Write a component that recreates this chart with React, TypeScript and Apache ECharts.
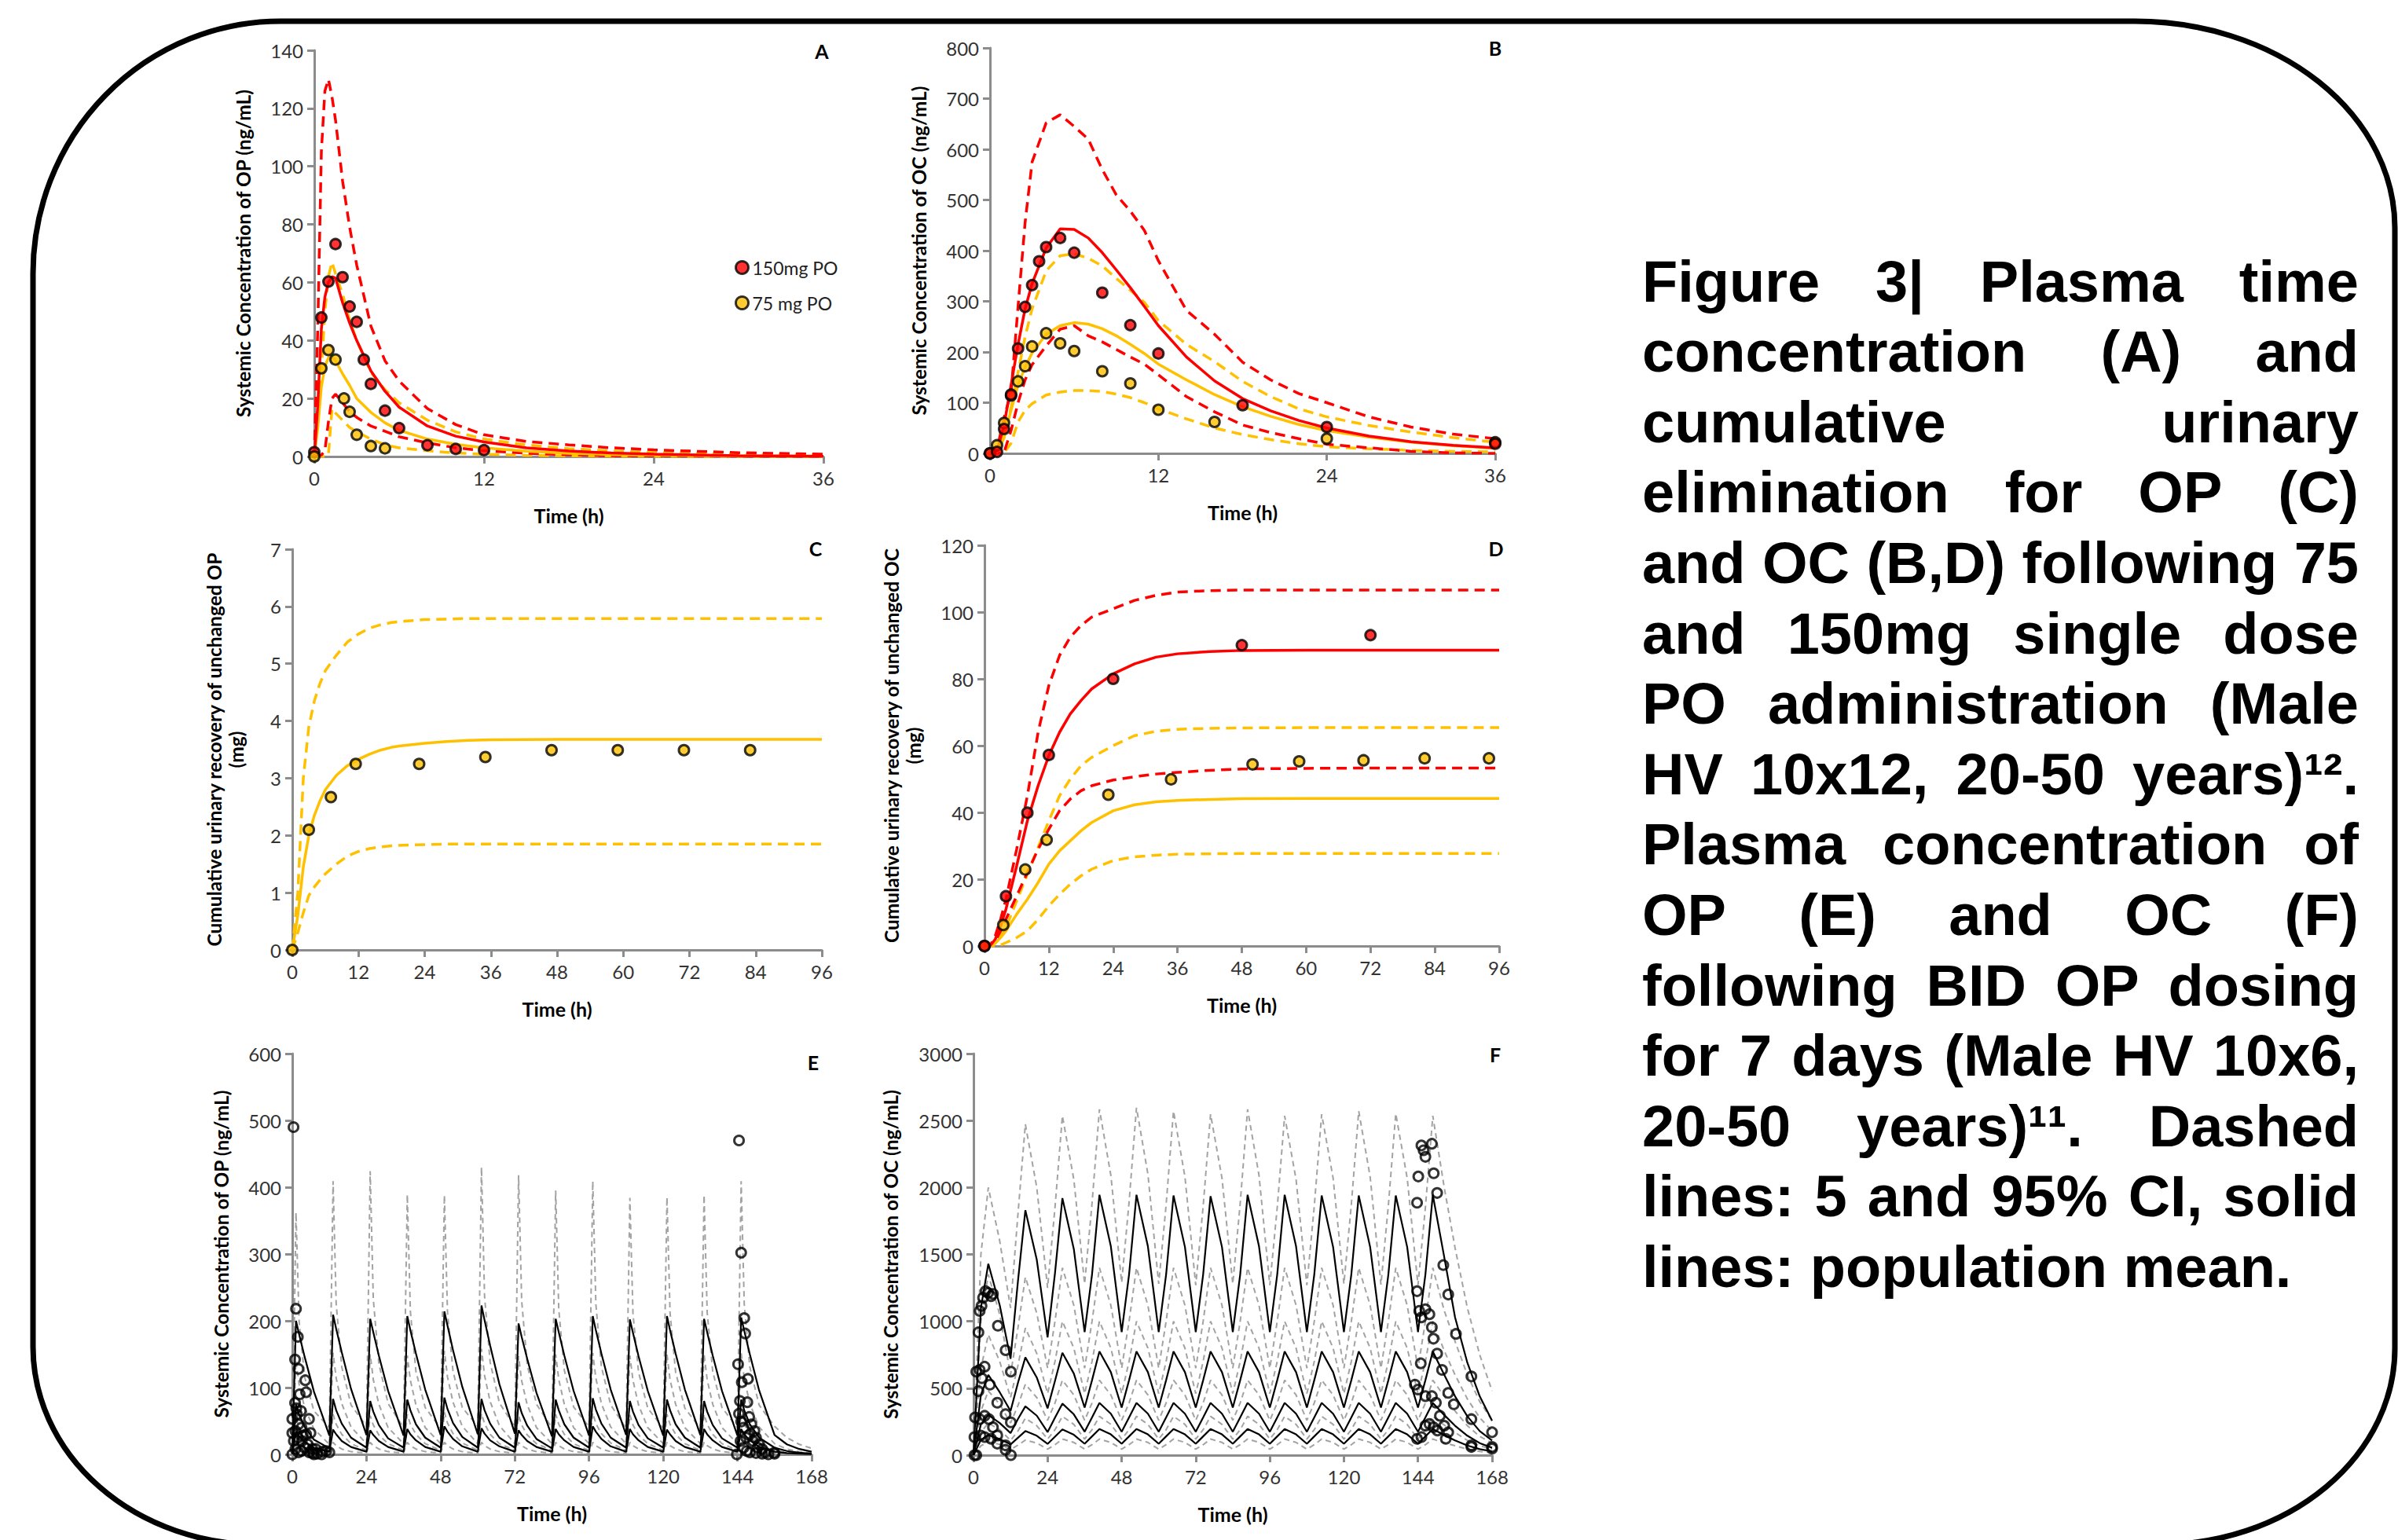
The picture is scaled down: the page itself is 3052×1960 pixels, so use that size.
import React, { useEffect, useRef } from "react";
import * as echarts from "echarts";

// ================= Panel A : OP plasma, single dose =================
const A_TIME = [0, 0.25, 0.5, 0.75, 1, 1.25, 1.5, 2, 2.5, 3, 4, 5, 6, 8, 10, 12, 15, 18, 21, 24, 30, 36];
const A_MEAN_150 = [0, 18, 44, 55, 60, 62, 61.5, 53, 46, 40, 29.5, 22.5, 17, 10.5, 7, 5, 3, 1.9, 1.2, 0.8, 0.3, 0.1];
const A_P95_150 = [0, 45, 105, 126, 130, 124, 116, 95, 79, 66, 45, 33, 26, 16.5, 11, 7.5, 5.2, 4, 3, 2.3, 1.3, 0.8];
const A_P5_150 = [0, 0, 0.5, 2, 12, 20, 21.5, 18.5, 15.5, 13.5, 10.5, 8.7, 6.8, 4.7, 3, 2, 1.1, 0.6, 0.3, 0.2, 0.1, 0];
const A_MEAN_75 = [0, 10, 24, 31, 34, 34.5, 33, 28.5, 24.5, 20, 15.2, 11.6, 9, 6, 4.2, 3, 1.8, 1.1, 0.7, 0.45, 0.2, 0.08];
const A_P95_75 = [0, 12, 30, 50, 62, 67, 63, 56, 47, 40, 29, 23, 18.5, 12.5, 8.5, 6, 4, 2.7, 1.9, 1.4, 0.8, 0.5];
const A_P5_75 = [0, 0, 0, 0, 0.5, 16.5, 15, 12.5, 10, 8.5, 6, 4, 3, 2, 1.2, 0.8, 0.4, 0.2, 0.1, 0.05, 0, 0];
const A_OBS_T_150 = [0, 0.5, 1, 1.5, 2, 2.5, 3, 3.5, 4, 5, 6, 8, 10, 12];
const A_OBS_150 = [1.5, 47.9, 60.3, 73.2, 61.8, 51.7, 46.4, 33.4, 25, 15.8, 9.8, 3.9, 2.6, 2.2];
const A_OBS_T_75 = [0, 0.5, 1, 1.5, 2.1, 2.5, 3, 4, 5];
const A_OBS_75 = [0, 30.4, 36.7, 33.4, 20, 15.4, 7.5, 3.6, 2.8];

// ================= Panel B : OC plasma, single dose =================
const B_TIME = [0, 0.5, 1, 1.5, 2, 2.5, 3, 4, 5, 6, 7, 8, 9, 10, 11, 12, 14, 16, 18, 20, 22, 24, 27, 30, 33, 36];
const B_MEAN_150 = [0, 5, 55, 135, 215, 285, 335, 405, 443, 442, 425, 396, 362, 327, 290, 252, 190, 143, 108, 84, 65, 50, 34, 23, 16, 11];
const B_P95_150 = [0, 8, 70, 120, 290, 455, 575, 652, 668, 645, 620, 560, 510, 478, 440, 380, 282, 235, 180, 145, 118, 100, 72, 52, 38, 29];
const B_P5_150 = [0, 0, 2, 45, 100, 145, 175, 212, 245, 252, 232, 220, 205, 190, 176, 155, 112, 82, 56, 41, 29, 18, 11, 4, 1, 0];
const B_MEAN_75 = [0, 3, 35, 85, 135, 170, 198, 235, 252, 258, 255, 246, 232, 215, 197, 176, 145, 116, 92, 73, 57, 45, 32, 22, 15, 10];
const B_P95_75 = [0, 2, 30, 90, 160, 230, 285, 360, 390, 394, 385, 370, 345, 322, 298, 262, 215, 181, 142, 112, 88, 72, 55, 42, 31, 22];
const B_P5_75 = [0, 0, 1, 20, 62, 85, 98, 115, 121, 124, 124, 122, 117, 110, 100, 88, 68, 50, 37, 27, 19, 13, 9, 6, 4, 3];
const B_OBS_T_150 = [0, 0.5, 1, 1.5, 2, 2.5, 3, 3.5, 4, 5, 6, 8, 10, 12, 18, 24, 36];
const B_OBS_150 = [0, 3, 48, 116, 207, 289, 332, 379, 407, 425, 396, 317, 253, 197, 95, 52, 19];
const B_OBS_T_75 = [0, 0.5, 1, 1.5, 2, 2.5, 3, 4, 5, 6, 8, 10, 12, 16, 24, 36];
const B_OBS_75 = [0, 16, 60, 114, 142, 172, 211, 237, 217, 202, 162, 138, 86, 62, 29, 22];

// ================= Panel C : OP cumulative urinary =================
const C_TIME = [0, 1, 2, 3, 4, 5, 6, 8, 10, 12, 14, 16, 18, 20, 24, 28, 32, 36, 48, 60, 72, 84, 96];
const C_MEAN_75 = [0, 0.6, 1.45, 2.0, 2.35, 2.6, 2.8, 3.05, 3.22, 3.33, 3.42, 3.49, 3.54, 3.57, 3.61, 3.64, 3.66, 3.67, 3.68, 3.68, 3.68, 3.68, 3.68];
const C_P95_75 = [0, 1.0, 3.0, 3.9, 4.35, 4.65, 4.88, 5.15, 5.38, 5.52, 5.62, 5.68, 5.72, 5.74, 5.77, 5.78, 5.79, 5.79, 5.79, 5.79, 5.79, 5.79, 5.79];
const C_P5_75 = [0, 0.3, 0.65, 0.95, 1.1, 1.22, 1.33, 1.5, 1.64, 1.72, 1.77, 1.8, 1.82, 1.83, 1.84, 1.85, 1.85, 1.85, 1.85, 1.85, 1.85, 1.85, 1.85];
const C_OBS_T = [0, 3, 7, 11.5, 23, 35, 47, 59, 71, 83];
const C_OBS = [0, 2.1, 2.67, 3.25, 3.25, 3.37, 3.49, 3.49, 3.49, 3.49];

// ================= Panel D : OC cumulative urinary =================
const D_TIME = [0, 1, 2, 3, 4, 6, 8, 10, 12, 14, 16, 18, 20, 24, 28, 32, 36, 42, 48, 60, 72, 84, 96];
const D_MEAN_150 = [0, 0, 2, 6, 11, 24, 37.5, 48, 57, 64, 69.5, 73.5, 77, 81.5, 84.5, 86.5, 87.5, 88.2, 88.5, 88.6, 88.6, 88.6, 88.6];
const D_P95_150 = [0, 0, 3, 8, 14, 29, 45, 64, 78, 87, 92.5, 96, 98.5, 101, 103.5, 105, 106, 106.4, 106.6, 106.6, 106.6, 106.6, 106.6];
const D_P5_150 = [0, 0, 1.5, 4.5, 8, 15, 22, 29, 35, 40.5, 44, 46.5, 48, 49.7, 50.7, 51.5, 52, 52.6, 53, 53.2, 53.3, 53.3, 53.3];
const D_MEAN_75 = [0, 0, 0.8, 2.5, 4.5, 9.5, 14, 19, 24.5, 28.5, 31.5, 34.5, 37, 40.5, 42.3, 43.2, 43.6, 43.9, 44.1, 44.2, 44.2, 44.2, 44.2];
const D_P95_75 = [0, 0, 1.5, 3, 5.5, 13.5, 21.5, 29.5, 37.5, 45, 50, 54, 56.5, 60, 63, 64.3, 64.9, 65.2, 65.3, 65.4, 65.4, 65.4, 65.4];
const D_P5_75 = [0, 0, 0, 0.3, 1, 2.5, 4.5, 8, 12, 15.5, 18.5, 21, 23, 25.6, 26.7, 27.2, 27.5, 27.6, 27.7, 27.7, 27.7, 27.7, 27.7];
const D_OBS_T_150 = [0, 4, 8, 12, 24, 48, 72];
const D_OBS_150 = [0, 14.9, 39.9, 57.2, 80, 90.1, 93.1];
const D_OBS_T_75 = [0, 3.5, 7.6, 11.6, 23.1, 34.8, 50, 58.7, 70.7, 82.1, 94.1];
const D_OBS_75 = [0, 6.3, 22.9, 31.8, 45.3, 49.9, 54.4, 55.3, 55.6, 56.2, 56.2];

// ================= Panel E : OP plasma, BID 7 days =================
const E_TIME = [
  0, 1.2, 2.2, 4, 7, 12, 13.2, 14.2, 16, 19, 24, 25.2, 26.2, 28, 31, 36, 37.2, 38.2, 40, 43,
  48, 49.2, 50.2, 52, 55, 60, 61.2, 62.2, 64, 67, 72, 73.2, 74.2, 76, 79, 84, 85.2, 86.2, 88, 91,
  96, 97.2, 98.2, 100, 103, 108, 109.2, 110.2, 112, 115, 120, 121.2, 122.2, 124, 127,
  132, 133.2, 134.2, 136, 139, 144, 145.2, 146.2, 148, 151, 156, 160, 164, 168,
];
const E_MEAN_1 = [
  0, 200, 180, 146, 94, 28, 209, 188, 153, 98, 29, 203, 183, 148, 95, 28, 207, 186, 151, 97,
  29, 214, 193, 156, 101, 30, 223, 201, 163, 105, 31, 196, 176, 143, 92, 27, 203, 183, 148, 95,
  28, 207, 186, 151, 97, 29, 202, 182, 147, 95, 28, 207, 186, 151, 97,
  29, 203, 183, 148, 95, 28, 205, 185, 150, 96, 29, 15, 8, 4,
];
const E_MEAN_2 = [
  0, 75, 60, 41, 22, 9, 83, 66, 46, 25, 10, 80, 64, 44, 24, 10, 82, 66, 45, 25,
  10, 85, 68, 47, 26, 10, 83, 66, 46, 25, 10, 78, 62, 43, 23, 9, 82, 66, 45, 25,
  10, 84, 67, 46, 25, 10, 80, 64, 44, 24, 10, 82, 66, 45, 25,
  10, 80, 64, 44, 24, 10, 82, 66, 45, 25, 10, 5, 2.5, 1,
];
const E_MEAN_3 = [
  0, 34, 27, 19, 10, 4, 37, 30, 20, 11, 4, 36, 29, 20, 11, 4, 38, 30, 21, 11,
  4, 42, 34, 23, 12, 4, 39, 31, 21, 12, 4, 36, 29, 20, 11, 4, 38, 30, 21, 11,
  4, 42, 34, 23, 12, 4, 38, 30, 21, 11, 4, 37, 30, 20, 11,
  4, 38, 30, 21, 11, 4, 38, 30, 21, 11, 4, 2, 1, 0.5,
];
const E_CI_1 = [
  0, 362, 200, 116, 65, 40, 409, 225, 131, 74, 42, 424, 233, 136, 76, 40, 389, 214, 124, 70,
  39, 388, 213, 124, 70, 42, 430, 236, 138, 77, 41, 418, 230, 134, 75, 40, 395, 217, 126, 71,
  41, 409, 225, 131, 74, 39, 384, 211, 123, 69, 39, 385, 212, 123, 69,
  39, 388, 213, 124, 70, 40, 409, 225, 131, 74, 42, 25, 15, 9,
];
const E_CI_2 = [
  0, 140, 105, 70, 38, 15, 152, 114, 76, 41, 16, 150, 112, 75, 40, 16, 148, 111, 74, 40,
  16, 155, 116, 78, 42, 16, 158, 118, 79, 43, 16, 147, 110, 74, 40, 16, 150, 112, 75, 40,
  16, 152, 114, 76, 41, 16, 148, 111, 74, 40, 16, 150, 112, 75, 40,
  16, 150, 112, 75, 40, 16, 152, 114, 76, 41, 16, 8, 4, 2,
];
const E_CI_3 = [
  0, 55, 41, 27, 15, 6, 60, 45, 30, 16, 6, 58, 44, 29, 16, 6, 60, 45, 30, 16,
  6, 63, 47, 31, 17, 6, 61, 46, 30, 16, 6, 58, 44, 29, 16, 6, 60, 45, 30, 16,
  6, 62, 46, 31, 17, 6, 59, 44, 29, 16, 6, 60, 45, 30, 16,
  6, 60, 45, 30, 16, 6, 60, 45, 30, 16, 6, 3, 1.5, 0.8,
];
const E_CI_4 = [
  0, 16, 12, 7, 4, 2, 18, 13, 8, 4, 2, 18, 13, 8, 4, 2, 18, 13, 8, 4,
  2, 18, 13, 8, 4, 2, 18, 13, 8, 4, 2, 18, 13, 8, 4, 2, 18, 13, 8, 4,
  2, 18, 13, 8, 4, 2, 18, 13, 8, 4, 2, 18, 13, 8, 4,
  2, 18, 13, 8, 4, 2, 18, 13, 8, 4, 2, 1, 0.5, 0.2,
];
const E_OBS = [
  [0.4, 490], [1.2, 218], [1.8, 176], [0.9, 142], [2, 128], [4.2, 111], [4.5, 93], [2.4, 90], [0.9, 77], [1.3, 69],
  [0, 53], [5.4, 53], [0, 32], [5.9, 32], [0, 0], [3.1, 20], [7.6, 8], [9.8, 4], [1.5, 60], [2, 45],
  [2.8, 65], [3, 40], [1, 35], [0.5, 20], [1.8, 25], [3.4, 28], [4.5, 30], [5, 15], [4, 10], [6.5, 8],
  [3, 5], [2, 3], [1, 8], [5.5, 3], [6.5, 2], [7, 0], [8, 1], [9.5, 0], [11, 5], [12, 3],
  [144.5, 470], [145.2, 302], [146.2, 204], [146.5, 181], [144.2, 135], [145.4, 108], [147.4, 113], [144.5, 61], [145.2, 49], [147.2, 78],
  [147.8, 56], [143.8, 0], [147.8, 29], [149, 20], [150.5, 10], [153, 2.5], [155.9, 2.5], [146, 40], [146.8, 25], [148.5, 45],
  [149.5, 35], [150, 25], [151, 15], [152, 8], [145, 20], [146, 10], [147, 5], [148, 3], [150, 2], [152, 1],
  [154, 0], [156, 1], [144.8, 80],
];

// ================= Panel F : OC plasma, BID 7 days =================
const F_TIME = [
  0, 2.4, 4.8, 8.5, 12, 14.4, 16.8, 20.5, 24, 26.4, 28.8, 32.5, 36, 38.4, 40.8, 44.5,
  48, 50.4, 52.8, 56.5, 60, 62.4, 64.8, 68.5, 72, 74.4, 76.8, 80.5, 84, 86.4, 88.8, 92.5,
  96, 98.4, 100.8, 104.5, 108, 110.4, 112.8, 116.5, 120, 122.4, 124.8, 128.5, 132, 134.4, 136.8, 140.5,
  144, 146.4, 148.8, 152.5, 156, 160, 164, 168,
];
const F_MEAN_1 = [
  0, 1100, 1430, 1120, 720, 1300, 1830, 1460, 880, 1360, 1920, 1540, 920, 1350, 1945, 1560,
  920, 1350, 1945, 1560, 920, 1350, 1940, 1555, 920, 1350, 1935, 1555, 920, 1350, 1945, 1560,
  920, 1350, 1945, 1560, 920, 1350, 1940, 1555, 920, 1350, 1940, 1555, 920, 1350, 1940, 1555,
  920, 1350, 1945, 1480, 1030, 690, 440, 257,
];
const F_MEAN_2 = [
  0, 450, 600, 470, 330, 540, 730, 580, 350, 555, 765, 610, 355, 560, 775, 620,
  355, 560, 775, 620, 355, 560, 775, 620, 355, 560, 775, 620, 355, 560, 775, 620,
  355, 560, 775, 620, 355, 560, 775, 620, 355, 560, 775, 620, 355, 560, 775, 620,
  355, 560, 775, 600, 440, 290, 180, 110,
];
const F_MEAN_3 = [
  0, 230, 300, 240, 165, 270, 365, 295, 172, 280, 385, 305, 175, 282, 390, 310,
  175, 282, 390, 310, 175, 282, 390, 310, 175, 282, 390, 310, 175, 282, 390, 310,
  175, 282, 390, 310, 175, 282, 390, 310, 175, 282, 390, 310, 175, 282, 390, 310,
  175, 282, 390, 300, 220, 145, 90, 55,
];
const F_MEAN_4 = [
  0, 115, 150, 120, 80, 130, 180, 145, 84, 138, 192, 152, 85, 140, 195, 155,
  85, 140, 195, 155, 85, 140, 195, 155, 85, 140, 195, 155, 85, 140, 195, 155,
  85, 140, 195, 155, 85, 140, 195, 155, 85, 140, 195, 155, 85, 140, 195, 155,
  85, 140, 195, 150, 110, 72, 45, 28,
];
const F_CI_1 = [
  0, 1500, 2000, 1600, 1100, 1800, 2473, 2000, 1250, 1850, 2535, 2060, 1280, 1880, 2584, 2090,
  1290, 1890, 2596, 2100, 1280, 1870, 2571, 2080, 1270, 1860, 2547, 2070, 1280, 1880, 2584, 2090,
  1270, 1850, 2535, 2060, 1270, 1860, 2547, 2070, 1280, 1870, 2571, 2080, 1275, 1865, 2552, 2070,
  1270, 1850, 2535, 2000, 1550, 1100, 750, 480,
];
const F_CI_2 = [
  0, 1000, 1350, 1050, 600, 950, 1330, 1060, 650, 1000, 1400, 1120, 650, 1000, 1400, 1120,
  650, 1000, 1400, 1120, 650, 1000, 1400, 1120, 650, 1000, 1400, 1120, 650, 1000, 1400, 1120,
  650, 1000, 1400, 1120, 650, 1000, 1400, 1120, 650, 1000, 1400, 1120, 650, 1000, 1400, 1120,
  650, 1000, 1400, 1080, 850, 600, 400, 260,
];
const F_CI_3 = [
  0, 650, 900, 700, 430, 670, 950, 760, 460, 700, 1000, 800, 460, 700, 1000, 800,
  460, 700, 1000, 800, 460, 700, 1000, 800, 460, 700, 1000, 800, 460, 700, 1000, 800,
  460, 700, 1000, 800, 460, 700, 1000, 800, 460, 700, 1000, 800, 460, 700, 1000, 800,
  460, 700, 1000, 780, 600, 420, 280, 180,
];
const F_CI_4 = [
  0, 330, 480, 380, 240, 370, 530, 430, 260, 390, 560, 450, 260, 390, 560, 450,
  260, 390, 560, 450, 260, 390, 560, 450, 260, 390, 560, 450, 260, 390, 560, 450,
  260, 390, 560, 450, 260, 390, 560, 450, 260, 390, 560, 450, 260, 390, 560, 450,
  260, 390, 560, 440, 330, 220, 140, 90,
];
const F_CI_5 = [
  0, 170, 240, 190, 110, 180, 275, 220, 120, 190, 290, 230, 120, 190, 290, 230,
  120, 190, 290, 230, 120, 190, 290, 230, 120, 190, 290, 230, 120, 190, 290, 230,
  120, 190, 290, 230, 120, 190, 290, 230, 120, 190, 290, 230, 120, 190, 290, 230,
  120, 190, 290, 225, 170, 110, 70, 45,
];
const F_CI_6 = [
  0, 70, 100, 80, 42, 75, 112, 90, 45, 78, 120, 95, 45, 78, 120, 95,
  45, 78, 120, 95, 45, 78, 120, 95, 45, 78, 120, 95, 45, 78, 120, 95,
  45, 78, 120, 95, 45, 78, 120, 95, 45, 78, 120, 95, 45, 78, 120, 95,
  45, 78, 120, 92, 70, 45, 28, 18,
];
const F_OBS = [
  [0.3, 0], [1.6, 918], [2.0, 1078], [2.6, 1115], [3.1, 1176], [3.9, 1225], [4.7, 1212], [5.7, 1188], [6.3, 1205], [7.9, 967],
  [10.4, 784], [12.1, 624], [1.6, 478], [0.9, 624], [2.0, 637], [2.7, 575], [3.6, 661], [5.3, 527], [7.7, 392], [10.4, 306],
  [12.1, 245], [0.5, 282], [2.0, 269], [3.6, 294], [5.0, 269], [6.3, 208], [7.7, 147], [10.4, 73], [12.1, 0], [0.3, 135],
  [0.9, 0], [2.3, 147], [3.6, 135], [5.7, 122], [7.7, 86], [10.4, 40],
  [143.7, 1886], [144.1, 2082], [145.1, 2314], [145.8, 2278], [146.4, 2229], [148.5, 2327], [149.1, 2106], [150.2, 1959], [152.2, 1420], [153.8, 1200],
  [156.3, 906], [161.3, 588], [168, 171], [143.7, 1225], [144.4, 1078], [145.1, 1029], [146.4, 1090], [147.7, 1053], [148.5, 955], [149, 870],
  [150.2, 759], [151.8, 637], [153.8, 465], [155.6, 380], [161.3, 269], [168, 61], [143, 527], [144, 490], [144.9, 686], [146.4, 441],
  [148.5, 441], [149.8, 392], [151.1, 294], [152.5, 220], [153.8, 171], [161.3, 73], [168, 49], [143.7, 122], [145.1, 135], [146.4, 220],
  [147.7, 233], [149, 208], [150.3, 184], [153, 122], [161.3, 61],
];

// ================= Caption =================
const CAPTION_LINES = [
  "Figure 3| Plasma time",
  "concentration (A) and",
  "cumulative urinary",
  "elimination for OP (C)",
  "and OC (B,D) following 75",
  "and 150mg single dose",
  "PO administration (Male",
  "HV 10x12, 20-50 years)¹².",
  "Plasma concentration of",
  "OP (E) and OC (F)",
  "following BID OP dosing",
  "for 7 days (Male HV 10x6,",
  "20-50 years)¹¹. Dashed",
  "lines: 5 and 95% CI, solid",
  "lines: population mean.",
];

const FRAME_D =
  "M357 27 L2717 27 A331 263 0 0 1 3048 290 L3048 1716 A300 250 0 0 1 2748 1966 L330 1966 A288 252 0 0 1 42 1714 L42 348 A315 321 0 0 1 357 27 Z";

const RED = "#FF0000";
const GOLD = "#FFC000";
const GRAYD = "#A3A3A3";
const AXIS_GRAY = "#8C8C8C";
const TICK_FONT = "Lato";

const pairs = (t: number[], v: number[]) => t.map((x, i) => [x, v[i]]);

const PANELS = [
  { grid: { left: 400, top: 64, width: 648, height: 517 }, xMax: 36, xInt: 12, yMax: 140, yInt: 20, yName: "Systemic Concentration of OP (ng/mL)", yGap: 77, letter: "A", lx: 1046, ly: 65 },
  { grid: { left: 1260, top: 61, width: 643, height: 516 }, xMax: 36, xInt: 12, yMax: 800, yInt: 100, yName: "Systemic Concentration of OC (ng/mL)", yGap: 77, letter: "B", lx: 1903, ly: 61 },
  { grid: { left: 372, top: 699, width: 674, height: 510 }, xMax: 96, xInt: 12, yMax: 7, yInt: 1, yName: "Cumulative urinary recovery of unchanged OP\n(mg)", yGap: 58, letter: "C", lx: 1038, ly: 698 },
  { grid: { left: 1253, top: 694, width: 655, height: 510 }, xMax: 96, xInt: 12, yMax: 120, yInt: 20, yName: "Cumulative urinary recovery of unchanged OC\n(mg)", yGap: 77, letter: "D", lx: 1904, ly: 698 },
  { grid: { left: 372, top: 1341, width: 661, height: 510 }, xMax: 168, xInt: 24, yMax: 600, yInt: 100, yName: "Systemic Concentration of OP (ng/mL)", yGap: 77, letter: "E", lx: 1035, ly: 1352 },
  { grid: { left: 1239, top: 1341, width: 660, height: 511 }, xMax: 168, xInt: 24, yMax: 3000, yInt: 500, yName: "Systemic Concentration of OC (ng/mL)", yGap: 92, letter: "F", lx: 1903, ly: 1342 },
];

function lineS(i: number, t: number[], v: number[], color: string, width: number, dash: number[] | null, z = 2) {
  return {
    type: "line",
    xAxisIndex: i,
    yAxisIndex: i,
    data: pairs(t, v),
    symbol: "none",
    showSymbol: false,
    silent: true,
    z,
    lineStyle: { color, width, type: dash ? dash : "solid", cap: "butt" },
  };
}

function dotS(i: number, t: number[], v: number[], fill: string, name?: string) {
  return {
    type: "scatter",
    name,
    xAxisIndex: i,
    yAxisIndex: i,
    data: pairs(t, v),
    symbol: "circle",
    symbolSize: 13,
    silent: true,
    z: 5,
    itemStyle: { color: fill, borderColor: "#000", borderWidth: 3 },
  };
}

function openS(i: number, data: number[][]) {
  return {
    type: "scatter",
    xAxisIndex: i,
    yAxisIndex: i,
    data,
    symbol: "circle",
    symbolSize: 12,
    silent: true,
    z: 5,
    itemStyle: { color: "rgba(255,255,255,0)", borderColor: "#000", borderWidth: 3 },
  };
}

export default function App() {
  const ref = useRef<HTMLDivElement>(null);

  useEffect(() => {
    document.body.style.margin = "0";
    if (!ref.current) return;
    echarts.graphic.registerShape("frameShape", echarts.graphic.extendPath(FRAME_D, {}));
    const chart = echarts.init(ref.current, null, { renderer: "svg" });

    const xAxis: any[] = [];
    const yAxis: any[] = [];
    const plain = (v: number) => String(v);
    PANELS.forEach((p, i) => {
      xAxis.push({
        type: "value",
        gridIndex: i,
        min: 0,
        max: p.xMax,
        interval: p.xInt,
        name: "Time (h)",
        nameLocation: "middle",
        nameGap: 62,
        nameTextStyle: { fontFamily: TICK_FONT, fontWeight: "bold", fontSize: 25, color: "#000" },
        axisLine: { show: true, onZero: false, lineStyle: { color: AXIS_GRAY, width: 3 } },
        axisTick: { show: true, length: 9, lineStyle: { color: AXIS_GRAY, width: 3 } },
        axisLabel: { fontFamily: TICK_FONT, fontSize: 24, color: "#333", margin: 15, formatter: plain },
        splitLine: { show: false },
      });
      yAxis.push({
        type: "value",
        gridIndex: i,
        min: 0,
        max: p.yMax,
        interval: p.yInt,
        name: p.yName,
        nameLocation: "middle",
        nameGap: p.yGap,
        nameTextStyle: { fontFamily: TICK_FONT, fontWeight: "bold", fontSize: 24.5, color: "#000", lineHeight: 28 },
        axisLine: { show: true, onZero: false, lineStyle: { color: AXIS_GRAY, width: 3 } },
        axisTick: { show: true, length: 9, lineStyle: { color: AXIS_GRAY, width: 3 } },
        axisLabel: { fontFamily: TICK_FONT, fontSize: 24, color: "#333", margin: 14, formatter: plain },
        splitLine: { show: false },
      });
    });
    // duplicate x axes that draw the inner half of the crossing tick marks
    PANELS.forEach((p, i) => {
      xAxis.push({
        type: "value",
        gridIndex: i,
        min: 0,
        max: p.xMax,
        interval: p.xInt,
        axisLine: { show: false },
        axisTick: { show: true, inside: true, length: 9, lineStyle: { color: AXIS_GRAY, width: 3 } },
        axisLabel: { show: false },
        splitLine: { show: false },
      });
    });

    const dash = [13, 8];
    const gdash = [7, 5];
    const series: any[] = [
      // A
      lineS(0, A_TIME, A_P95_75, GOLD, 3.5, dash),
      lineS(0, A_TIME, A_P5_75, GOLD, 3.5, dash),
      lineS(0, A_TIME, A_P95_150, RED, 3.5, dash),
      lineS(0, A_TIME, A_P5_150, RED, 3.5, dash),
      lineS(0, A_TIME, A_MEAN_75, GOLD, 3.5, null, 3),
      lineS(0, A_TIME, A_MEAN_150, RED, 3.5, null, 3),
      dotS(0, A_OBS_T_150, A_OBS_150, RED, "150mg PO"),
      dotS(0, A_OBS_T_75, A_OBS_75, GOLD, "75 mg PO"),
      // B
      lineS(1, B_TIME, B_P95_75, GOLD, 3.5, dash),
      lineS(1, B_TIME, B_P5_75, GOLD, 3.5, dash),
      lineS(1, B_TIME, B_P95_150, RED, 3.5, dash),
      lineS(1, B_TIME, B_P5_150, RED, 3.5, dash),
      lineS(1, B_TIME, B_MEAN_75, GOLD, 3.5, null, 3),
      lineS(1, B_TIME, B_MEAN_150, RED, 3.5, null, 3),
      dotS(1, B_OBS_T_75, B_OBS_75, GOLD),
      dotS(1, B_OBS_T_150, B_OBS_150, RED),
      // C
      lineS(2, C_TIME, C_P95_75, GOLD, 3.5, dash),
      lineS(2, C_TIME, C_P5_75, GOLD, 3.5, dash),
      lineS(2, C_TIME, C_MEAN_75, GOLD, 3.5, null, 3),
      dotS(2, C_OBS_T, C_OBS, GOLD),
      // D
      lineS(3, D_TIME, D_P95_75, GOLD, 3.5, dash),
      lineS(3, D_TIME, D_P5_75, GOLD, 3.5, dash),
      lineS(3, D_TIME, D_P95_150, RED, 3.5, dash),
      lineS(3, D_TIME, D_P5_150, RED, 3.5, dash),
      lineS(3, D_TIME, D_MEAN_75, GOLD, 3.5, null, 3),
      lineS(3, D_TIME, D_MEAN_150, RED, 3.5, null, 3),
      dotS(3, D_OBS_T_75, D_OBS_75, GOLD),
      dotS(3, D_OBS_T_150, D_OBS_150, RED),
      // E
      lineS(4, E_TIME, E_CI_1, GRAYD, 2, gdash),
      lineS(4, E_TIME, E_CI_2, GRAYD, 2, gdash),
      lineS(4, E_TIME, E_CI_3, GRAYD, 2, gdash),
      lineS(4, E_TIME, E_CI_4, GRAYD, 2, gdash),
      lineS(4, E_TIME, E_MEAN_3, "#000", 2.2, null, 3),
      lineS(4, E_TIME, E_MEAN_2, "#000", 2.2, null, 3),
      lineS(4, E_TIME, E_MEAN_1, "#000", 2.2, null, 3),
      openS(4, E_OBS),
      // F
      lineS(5, F_TIME, F_CI_1, GRAYD, 2, gdash),
      lineS(5, F_TIME, F_CI_2, GRAYD, 2, gdash),
      lineS(5, F_TIME, F_CI_3, GRAYD, 2, gdash),
      lineS(5, F_TIME, F_CI_4, GRAYD, 2, gdash),
      lineS(5, F_TIME, F_CI_5, GRAYD, 2, gdash),
      lineS(5, F_TIME, F_CI_6, GRAYD, 2, gdash),
      lineS(5, F_TIME, F_MEAN_4, "#000", 2.2, null, 3),
      lineS(5, F_TIME, F_MEAN_3, "#000", 2.2, null, 3),
      lineS(5, F_TIME, F_MEAN_2, "#000", 2.2, null, 3),
      lineS(5, F_TIME, F_MEAN_1, "#000", 2.2, null, 3),
      openS(5, F_OBS),
    ];

    // ---- graphics: frame, panel letters, justified caption ----
    const graphics: any[] = [
      {
        type: "frameShape",
        x: 0,
        y: 0,
        scaleX: 1,
        scaleY: 1,
        silent: true,
        z: 100,
        style: { fill: "none", stroke: "#000", lineWidth: 7 },
      },
    ];
    PANELS.forEach((p) => {
      graphics.push({
        type: "text",
        x: p.lx,
        y: p.ly,
        silent: true,
        style: {
          text: p.letter,
          font: `bold 25px ${TICK_FONT}`,
          fill: "#000",
          align: "center",
          verticalAlign: "middle",
        },
      });
    });

    const CAP_FS = 74;
    const CAP_X = 2090;
    const CAP_W = 912;
    const CAP_BASE = 381;
    const CAP_LH = 89.6;
    const capFont = `bold ${CAP_FS}px "Liberation Sans"`;
    const ctx = document.createElement("canvas").getContext("2d") as CanvasRenderingContext2D;
    ctx.font = capFont;
    CAPTION_LINES.forEach((line, li) => {
      const yMid = CAP_BASE + li * CAP_LH - 0.31 * CAP_FS;
      const words = line.split(" ");
      if (li === CAPTION_LINES.length - 1 || words.length === 1) {
        graphics.push({
          type: "text",
          x: CAP_X,
          y: yMid,
          silent: true,
          style: { text: line, font: capFont, fill: "#000", align: "left", verticalAlign: "middle" },
        });
        return;
      }
      const widths = words.map((w) => ctx.measureText(w).width);
      const total = widths.reduce((a, b) => a + b, 0);
      const gap = (CAP_W - total) / (words.length - 1);
      let x = CAP_X;
      words.forEach((w, wi) => {
        graphics.push({
          type: "text",
          x,
          y: yMid,
          silent: true,
          style: { text: w, font: capFont, fill: "#000", align: "left", verticalAlign: "middle" },
        });
        x += widths[wi] + gap;
      });
    });

    chart.setOption({
      animation: false,
      backgroundColor: "#fff",
      grid: PANELS.map((p) => ({ ...p.grid, containLabel: false })),
      xAxis,
      yAxis,
      legend: {
        data: ["150mg PO", "75 mg PO"],
        orient: "vertical",
        left: 930,
        top: 324,
        itemGap: 22,
        itemWidth: 16,
        itemHeight: 16,
        icon: "circle",
        selectedMode: false,
        itemStyle: { borderColor: "#000", borderWidth: 3 },
        textStyle: { fontFamily: TICK_FONT, fontSize: 23, color: "#222" },
      },
      series,
      graphic: graphics,
    });

    return () => chart.dispose();
  }, []);

  return (
    <div
      ref={ref}
      style={{ position: "absolute", left: 0, top: 0, width: 3052, height: 1960, background: "#fff" }}
    />
  );
}
